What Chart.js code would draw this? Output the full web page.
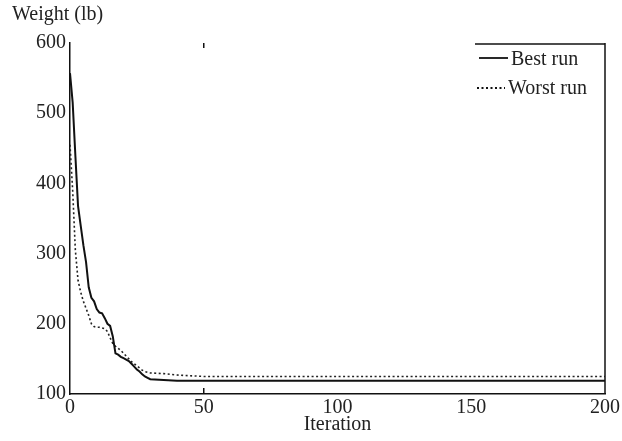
<!DOCTYPE html>
<html>
<head>
<meta charset="utf-8">
<script src="https://cdn.jsdelivr.net/npm/chart.js@4/dist/chart.umd.min.js"></script>
<style>
  html, body { margin: 0; padding: 0; background: #fff; }
  #wrap { width: 622px; height: 441px; }
</style>
</head>
<body>
<div id="wrap"><canvas id="chartWeight"></canvas></div>
<script>
const iterations = [0,1,2,3,4,5,6,7,8,9,10,11,12,13,14,15,16,17,18,19,20,21,22,23,24,25,26,27,28,29,30,35,40,50,200];
const bestRun  = [557,515,440,368,340,312,288,252,237,232,221,216,215,208,200,197,182,158,156,153,151,149,147,143,139,135,132,128,125,123,121,120,119,119,119];
const worstRun = [455,390,305,262,245,232,222,212,200,196,195,195,194,193,189,180,172,168,165,162,158,154,150,146,143,140,137,134,132,131,130,129,127,125,125];
const xTicks = [0, 50, 100, 150, 200];
const yTicks = [100, 200, 300, 400, 500, 600];
const legendNames = ['Best run', 'Worst run'];

const serif = '"Liberation Serif", "DejaVu Serif", serif';
Chart.defaults.font.family = serif;
Chart.defaults.font.size = 20;
Chart.defaults.color = '#222';

const toPoints = (xs, ys) => xs.map((x, i) => ({ x: x, y: ys[i] }));

// frame bits, axis title and the boxed legend
const extras = {
  id: 'extras',
  afterDraw(chart) {
    const { ctx, chartArea: a, scales: { x } } = chart;
    ctx.save();
    ctx.strokeStyle = '#111';
    ctx.lineWidth = 1.5;
    // right border
    ctx.beginPath();
    ctx.moveTo(a.right, a.top);
    ctx.lineTo(a.right, a.bottom);
    ctx.stroke();
    // legend box top edge
    ctx.beginPath();
    ctx.moveTo(475, a.top + 1);
    ctx.lineTo(a.right, a.top + 1);
    ctx.stroke();
    // the little ticks at 50
    const px = x.getPixelForValue(50);
    ctx.beginPath();
    ctx.moveTo(px, a.bottom);
    ctx.lineTo(px, a.bottom - 6);
    ctx.moveTo(px, a.top);
    ctx.lineTo(px, a.top + 5);
    ctx.stroke();

    ctx.fillStyle = '#222';
    ctx.font = '20px ' + serif;
    ctx.textBaseline = 'middle';
    ctx.textAlign = 'left';
    ctx.fillText('Weight (lb)', 12, 15);

    // legend
    ctx.lineWidth = 1.8;
    ctx.beginPath();
    ctx.moveTo(479, 58);
    ctx.lineTo(508, 58);
    ctx.stroke();
    ctx.fillText(legendNames[0], 511, 60);
    ctx.setLineDash([2, 2.5]);
    ctx.beginPath();
    ctx.moveTo(477, 88);
    ctx.lineTo(505, 88);
    ctx.stroke();
    ctx.setLineDash([]);
    ctx.fillText(legendNames[1], 508, 89);
    ctx.restore();
  }
};

const ctx = document.getElementById('chartWeight');

new Chart(ctx, {
  type: 'line',
  data: {
    datasets: [{
      label: legendNames[0],
      data: toPoints(iterations, bestRun),
      borderColor: '#111',
      borderWidth: 2,
      pointRadius: 0,
      tension: 0
    }, {
      label: legendNames[1],
      data: toPoints(iterations, worstRun),
      borderColor: '#222',
      borderWidth: 1.6,
      borderDash: [2, 2.5],
      pointRadius: 0,
      tension: 0
    }]
  },
  options: {
    responsive: true,
    maintainAspectRatio: false,
    animation: false,
    layout: { padding: { top: 43, right: 16, left: 0, bottom: 0 } },
    plugins: {
      legend: { display: false },
      tooltip: { enabled: false }
    },
    scales: {
      x: {
        type: 'linear',
        min: 0,
        max: 200,
        afterBuildTicks: s => { s.ticks = xTicks.map(v => ({ value: v })); },
        afterFit: s => { s.height = 47; },
        grid: { display: false, drawTicks: false },
        border: { display: true, color: '#111', width: 1.5 },
        ticks: { padding: 2, maxRotation: 0 },
        title: { display: true, text: 'Iteration', padding: { top: 0, bottom: 4 } }
      },
      y: {
        min: 100,
        max: 600,
        afterBuildTicks: s => { s.ticks = yTicks.map(v => ({ value: v })); },
        afterFit: s => { s.width = 70; },
        grid: { display: false, drawTicks: false },
        border: { display: true, color: '#111', width: 1.5 },
        ticks: { padding: 4 }
      }
    }
  },
  plugins: [extras]
});
</script>
</body>
</html>
